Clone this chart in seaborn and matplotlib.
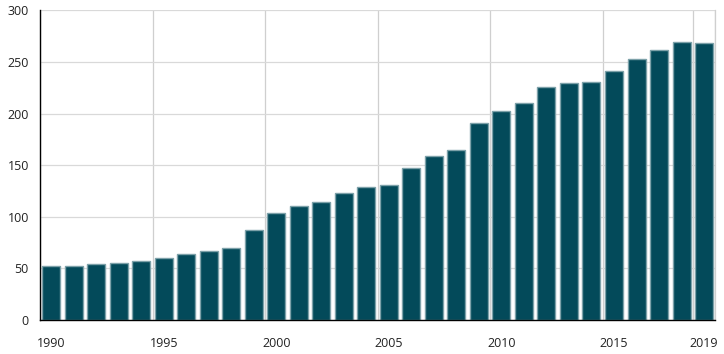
import pandas as pd
import seaborn as sns
import matplotlib.pyplot as plt

# 数据
years = list(range(1990, 2020))
values = [52, 52, 54, 55, 57, 60, 63.5, 66.5, 69.5, 87,
          104, 110, 114, 123.5, 128.5, 130.5, 147.5, 158.5, 165, 190.5,
          202, 210.5, 226, 230, 231, 241.5, 252.5, 262, 269.5, 268.5]
label_years = [1990, 1995, 2000, 2005, 2010, 2015, 2019]

df = pd.DataFrame({"year": years, "value": values})

sns.set_style("white")
plt.rcParams['font.family'] = ['Open Sans', 'DejaVu Sans']

fig = plt.figure(figsize=(7.24, 3.54), dpi=100)
ax = fig.add_axes([40 / 724, 34 / 354, 675.3 / 724, 309.7 / 354])

sns.barplot(data=df, x="year", y="value", color="#034a5a", saturation=1,
            width=0.8, edgecolor="#7da1a9", linewidth=1, ax=ax)

# 刻度：标签在柱中心，网格线在柱带起点
idx = [years.index(y) for y in label_years]
ax.set_xticks(idx)
ax.set_xticklabels([str(y) for y in label_years])
ax.set_xticks([i - 0.5 for i in idx] + [len(years) - 0.5], minor=True)
ax.set_xlim(-0.5, len(years) - 0.5)
ax.set_ylim(0, 300)
ax.set_yticks(range(0, 301, 50))

ax.set_axisbelow(True)
ax.grid(axis='y', which='major', color='#d9d9d9', linewidth=0.9)
ax.grid(axis='x', which='minor', color='#cfcfcf', linewidth=0.9)
ax.grid(axis='x', which='major', visible=False)

ax.tick_params(axis='both', which='major', length=5, width=1, color='black',
               labelsize=9, labelcolor='#222222')
ax.tick_params(axis='x', which='major', pad=7)
ax.tick_params(axis='y', which='major', pad=3)
ax.tick_params(axis='x', which='minor', length=0)

for s in ['left', 'bottom']:
    ax.spines[s].set_color('black')
    ax.spines[s].set_linewidth(1)
ax.spines['top'].set_visible(False)
ax.spines['right'].set_color('#cfcfcf')
ax.spines['right'].set_linewidth(0.9)

ax.set_xlabel("")
ax.set_ylabel("")

plt.savefig("out.png", dpi=100)
